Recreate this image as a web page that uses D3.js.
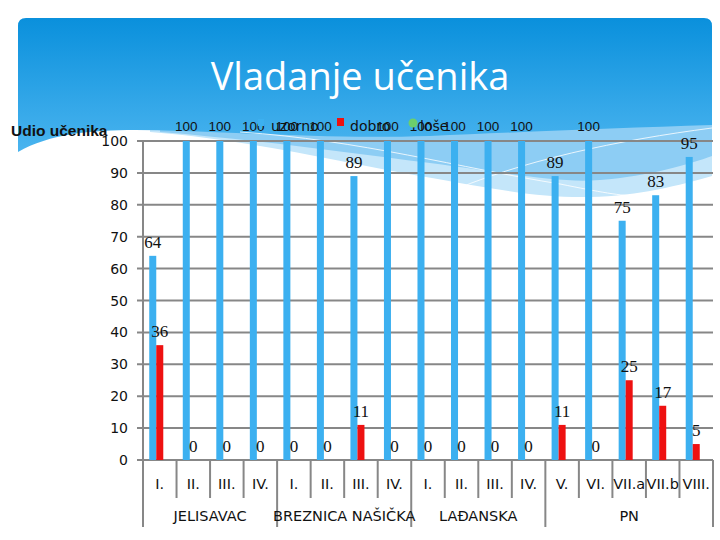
<!DOCTYPE html>
<html><head><meta charset="utf-8">
<script src="https://cdn.jsdelivr.net/npm/d3@7"></script>
<style>body{margin:0;background:#fff}svg{display:block}</style>
</head><body>
<svg id="c" width="720" height="540"></svg>
<script>
const groups = ["JELISAVAC","JELISAVAC","JELISAVAC","JELISAVAC","BREZNICA NAŠIČKA","BREZNICA NAŠIČKA","BREZNICA NAŠIČKA","BREZNICA NAŠIČKA","LAĐANSKA","LAĐANSKA","LAĐANSKA","LAĐANSKA","PN","PN","PN","PN","PN"];
const classes = ["I.","II.","III.","IV.","I.","II.","III.","IV.","I.","II.","III.","IV.","V.","VI.","VII.a","VII.b","VIII."];
const seriesNames = ["uzorno","dobro","loše"];
const uzorno = [64,100,100,100,100,100,89,100,100,100,100,100,89,100,75,83,95];
const dobro  = [36,0,0,0,0,0,11,0,0,0,0,0,11,0,25,17,5];
const lose   = [null,null,null,null,null,null,null,null,null,null,null,null,null,null,null,null,null];
const yTicks = [0,10,20,30,40,50,60,70,80,90,100];
const title = "Vladanje učenika";
const yTitle = "Udio učenika";

const colors = {uzorno:"#3cb0f0", dobro:"#ee1111", "loše":"#6ccf6c"};
const svg = d3.select("#c");

// background
const defs = svg.append("defs");
const g1 = defs.append("linearGradient").attr("id","hdr").attr("x1",0).attr("y1",0).attr("x2",0).attr("y2",1);
g1.append("stop").attr("offset","0%").attr("stop-color","#0a90dc");
g1.append("stop").attr("offset","100%").attr("stop-color","#4ab4ef");
svg.append("path").attr("fill","#c4e6fa")
  .attr("d","M150,132 C250,140 330,160 420,176 C500,190 540,198 590,197 C640,196 680,185 712,176 L712,120 L150,120 Z");
svg.append("path").attr("fill","#8dcdf4")
  .attr("d","M160,132 C260,140 340,152 430,163 C520,175 560,183 600,180 C650,176 690,164 712,156 L712,120 L160,120 Z");
svg.append("path").attr("fill","url(#hdr)")
  .attr("d","M18,26 Q18,18 26,18 L704,18 Q712,18 712,26 L712,125 C620,128 520,132 430,136 C330,139 250,133 180,131 C120,129 60,128 18,152 Z");
svg.append("path").attr("fill","none").attr("stroke","#ffffff").attr("stroke-width",1).attr("opacity",0.8)
  .attr("d","M240,132 C360,140 460,168 560,184 C600,192 620,196 640,196");
svg.append("path").attr("fill","none").attr("stroke","#ffffff").attr("stroke-width",1).attr("opacity",0.8)
  .attr("d","M440,196 C520,160 620,140 712,128");

svg.append("text").attr("x",360).attr("y",90).attr("text-anchor","middle")
  .attr("font-family","Open Sans, sans-serif").attr("font-size",38).attr("fill","#fff").text(title);

// scales
const keys = classes.map((c,i)=>i);
const x = d3.scaleBand().domain(keys).range([143,713]).paddingInner(0).paddingOuter(0);
const xs = d3.scaleBand().domain(seriesNames).range([0,x.bandwidth()]).paddingInner(0).paddingOuter(0.89);
const y = d3.scaleLinear().domain([0,100]).range([460,141]);

// gridlines & y axis
const grid = svg.append("g");
grid.selectAll("line").data(yTicks).join("line")
  .attr("x1",137).attr("x2",713).attr("y1",d=>y(d)).attr("y2",d=>y(d))
  .attr("stroke","#878787").attr("stroke-width",2);
svg.append("g").selectAll("text").data(yTicks).join("text")
  .attr("x",128).attr("y",d=>y(d)+5).attr("text-anchor","end")
  .attr("font-family","DejaVu Sans, sans-serif").attr("font-size",14).attr("fill","#111").text(d=>d);

// x axis
const ax = svg.append("g");
ax.append("line").attr("x1",143).attr("x2",143).attr("y1",141).attr("y2",527).attr("stroke","#878787").attr("stroke-width",2);
keys.forEach(i=>{
  const xr = x(i)+x.bandwidth();
  const isGroupEnd = i===keys.length-1 || groups[i]!==groups[i+1];
  ax.append("line").attr("x1",xr).attr("x2",xr).attr("y1",460).attr("y2",isGroupEnd?527:498)
    .attr("stroke","#878787").attr("stroke-width",2);
});
ax.selectAll("text.cls").data(keys).join("text").attr("class","cls")
  .attr("x",i=>x(i)+x.bandwidth()/2).attr("y",489).attr("text-anchor","middle")
  .attr("font-family","DejaVu Sans, sans-serif").attr("font-size",14.5).attr("fill","#111").text(i=>classes[i]);
const groupNames = Array.from(new Set(groups));
ax.selectAll("text.grp").data(groupNames).join("text").attr("class","grp")
  .attr("x",g=>{const idx=keys.filter(i=>groups[i]===g);return (x(idx[0])+x(idx[idx.length-1])+x.bandwidth())/2;})
  .attr("y",521).attr("text-anchor","middle")
  .attr("font-family","DejaVu Sans, sans-serif").attr("font-size",14.5).attr("fill","#111").text(g=>g);

// bars
const seriesData = {uzorno, dobro, "loše":lose};
seriesNames.forEach(s=>{
  const vals = seriesData[s];
  svg.append("g").selectAll("rect").data(keys.filter(i=>vals[i]!==null)).join("rect")
    .attr("x",i=>x(i)+xs(s)).attr("width",xs.bandwidth())
    .attr("y",i=>y(vals[i])).attr("height",i=>y(0)-y(vals[i]))
    .attr("fill",colors[s]);
});

// data labels
["uzorno","dobro"].forEach(s=>{
  const vals = seriesData[s];
  svg.append("g").selectAll("text").data(keys.filter(i=>vals[i]!==null)).join("text")
    .attr("x",i=>x(i)+xs(s)+xs.bandwidth()/2)
    .attr("y",i=>vals[i]===100 ? y(vals[i])-10 : y(vals[i])-8)
    .attr("text-anchor","middle")
    .attr("font-family",i=>vals[i]===100 ? "Liberation Sans, Arial, sans-serif" : "Liberation Serif, serif")
    .attr("font-size",i=>vals[i]===100 ? 13.5 : 17)
    .attr("fill","#111").text(i=>vals[i]);
});

// legend
const leg = svg.append("g");
leg.append("rect").attr("x",258).attr("y",119).attr("width",6).attr("height",7).attr("fill",colors.uzorno);
leg.append("text").attr("x",271).attr("y",131).attr("font-family","DejaVu Sans, sans-serif").attr("font-size",14).attr("fill","#111").text("uzorno");
leg.append("rect").attr("x",337).attr("y",118).attr("width",7).attr("height",8).attr("fill",colors.dobro);
leg.append("text").attr("x",350).attr("y",131).attr("font-family","DejaVu Sans, sans-serif").attr("font-size",14).attr("fill","#111").text("dobro");
leg.append("circle").attr("cx",413).attr("cy",123).attr("r",4.5).attr("fill",colors["loše"]);
leg.append("text").attr("x",420).attr("y",131).attr("font-family","DejaVu Sans, sans-serif").attr("font-size",14).attr("fill","#111").text("loše");

// y title
svg.append("text").attr("x",11).attr("y",136).attr("font-family","Liberation Sans, Arial, sans-serif")
  .attr("font-weight","bold").attr("font-size",15.5).attr("fill","#111").text(yTitle);
</script>
</body></html>
